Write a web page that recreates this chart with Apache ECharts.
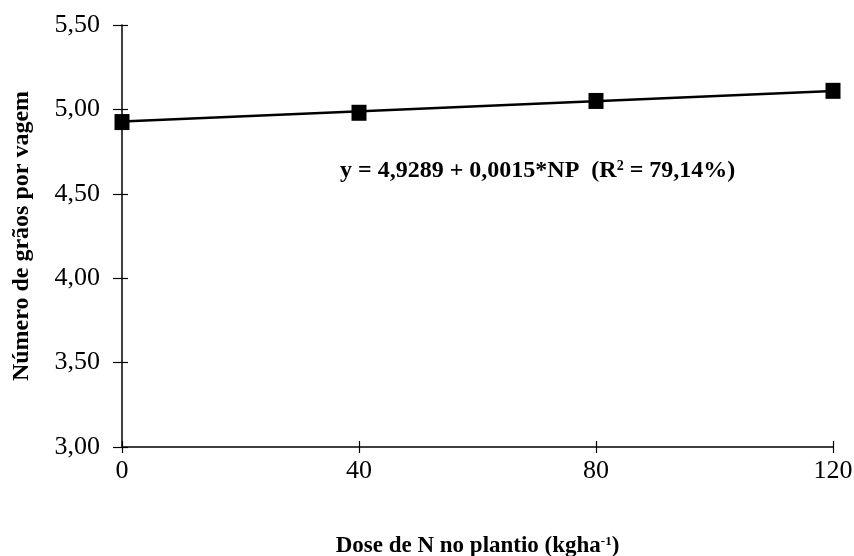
<!DOCTYPE html>
<html>
<head>
<meta charset="utf-8">
<script src="https://cdn.jsdelivr.net/npm/echarts@6/dist/echarts.min.js"></script>
<style>
  html, body { margin: 0; padding: 0; background: #fff; }
  #chart { width: 854px; height: 556px; }
</style>
</head>
<body>
<div id="chart"></div>
<script>
// Nitrogen dose at planting (kg/ha) and mean grains per pod
const doses = [0, 40, 80, 120];
const grains = [4.925, 4.98, 5.05, 5.11];

// Fitted regression line y = 4,9289 + 0,0015*NP, evaluated at the range ends
const fitX = [0, 120];
const fitY = [4.9289, 5.1089];

const yTicks = [3.0, 3.5, 4.0, 4.5, 5.0, 5.5];
const xTicks = [0, 40, 80, 120];

const serif = '"Liberation Serif", "DejaVu Serif", serif';

const xBase = {
  type: 'value',
  min: xTicks[0],
  max: xTicks[xTicks.length - 1],
  interval: 40,
  splitLine: { show: false }
};
const yBase = {
  type: 'value',
  min: yTicks[0],
  max: yTicks[yTicks.length - 1],
  interval: 0.5,
  splitLine: { show: false }
};

const chart = echarts.init(document.getElementById('chart'));
chart.setOption({
  backgroundColor: '#ffffff',
  animation: false,
  grid: { left: 122, right: 21, top: 25, bottom: 109, containLabel: false, outerBoundsMode: 'none' },
  xAxis: [
    Object.assign({}, xBase, {
      axisLine: { show: true, lineStyle: { color: '#000', width: 1.5 } },
      axisTick: { show: true, inside: false, length: 6, lineStyle: { color: '#000', width: 1.2 } },
      axisLabel: {
        margin: 11,
        color: '#000',
        fontFamily: serif,
        fontSize: 26,
        formatter: v => String(v)
      },
      name: 'Dose de N no plantio (kgha{sup|-1})',
      nameLocation: 'middle',
      nameGap: 88,
      nameTextStyle: {
        fontFamily: serif,
        fontWeight: 'bold',
        fontSize: 23,
        color: '#000',
        rich: {
          sup: { fontFamily: serif, fontWeight: 'bold', fontSize: 13, color: '#000', verticalAlign: 'top', padding: [0, 0, 10, 0] }
        }
      }
    }),
    // upper half of the crossing tick marks
    Object.assign({}, xBase, {
      position: 'bottom',
      axisLine: { show: false },
      axisTick: { show: true, inside: true, length: 6, lineStyle: { color: '#000', width: 1.2 } },
      axisLabel: { show: false }
    })
  ],
  yAxis: [
    Object.assign({}, yBase, {
      axisLine: { show: true, lineStyle: { color: '#000', width: 1.5 } },
      axisTick: { show: true, inside: false, length: 9, lineStyle: { color: '#000', width: 1.2 } },
      axisLabel: {
        margin: 22,
        color: '#000',
        fontFamily: serif,
        fontSize: 26,
        formatter: v => v.toFixed(2).replace('.', ',')
      },
      name: 'Número de grãos por vagem',
      nameLocation: 'middle',
      nameGap: 88,
      nameRotate: 90,
      nameTextStyle: {
        fontFamily: serif,
        fontWeight: 'bold',
        fontSize: 24,
        color: '#000'
      }
    }),
    // right half of the crossing tick marks
    Object.assign({}, yBase, {
      position: 'left',
      axisLine: { show: false },
      axisTick: { show: true, inside: true, length: 6, lineStyle: { color: '#000', width: 1.2 } },
      axisLabel: { show: false }
    })
  ],
  series: [
    {
      name: 'ajuste',
      type: 'line',
      xAxisIndex: 0,
      yAxisIndex: 0,
      data: fitX.map((x, i) => [x, fitY[i]]),
      showSymbol: false,
      symbol: 'none',
      lineStyle: { color: '#000', width: 2.5 },
      z: 2
    },
    {
      name: 'observado',
      type: 'scatter',
      xAxisIndex: 0,
      yAxisIndex: 0,
      data: doses.map((d, i) => [d, grains[i]]),
      symbol: 'rect',
      symbolSize: [15, 16],
      itemStyle: { color: '#000', opacity: 1 },
      z: 3
    }
  ],
  graphic: [
    {
      type: 'text',
      left: 340,
      top: 159,
      style: {
        text: 'y = 4,9289 + 0,0015*NP  (R{sup|2} = 79,14%)',
        font: 'bold 24px ' + serif,
        fill: '#000',
        rich: {
          sup: { fontFamily: serif, fontWeight: 'bold', fontSize: 14, fill: '#000', verticalAlign: 'top', padding: [0, 0, 10, 0] }
        }
      }
    }
  ]
});
</script>
</body>
</html>
